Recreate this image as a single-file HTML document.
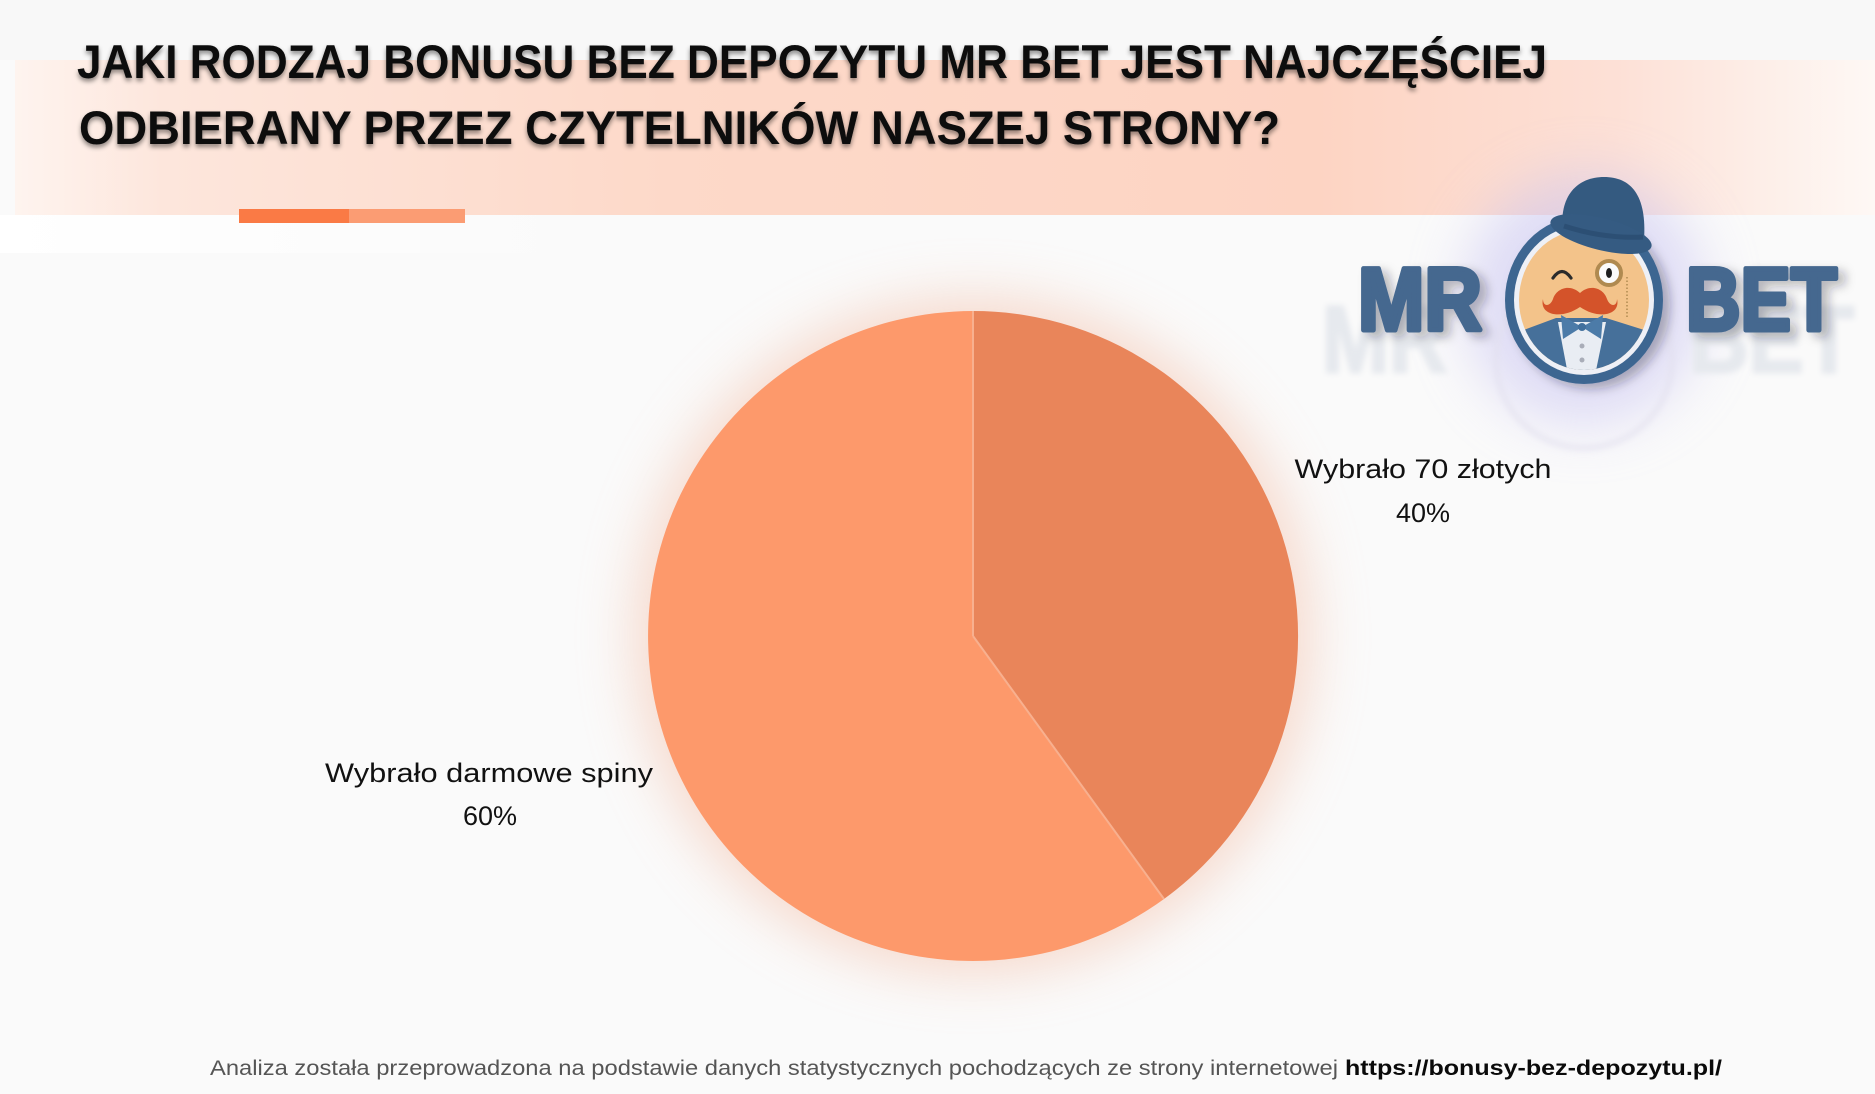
<!DOCTYPE html>
<html>
<head>
<meta charset="utf-8">
<style>
  html,body{margin:0;padding:0;background:#fafafa;}
  svg{display:block;}
  text{font-family:"Liberation Sans",sans-serif;}
</style>
</head>
<body>
<svg width="1875" height="1094" viewBox="0 0 1875 1094" xmlns="http://www.w3.org/2000/svg">
  <defs>
    <linearGradient id="band" x1="0" y1="0" x2="1" y2="0">
      <stop offset="0" stop-color="#fef4ef"/>
      <stop offset="0.08" stop-color="#fde6dc"/>
      <stop offset="0.35" stop-color="#fdd9c9"/>
      <stop offset="0.7" stop-color="#fdd4c3"/>
      <stop offset="0.86" stop-color="#fde0d6"/>
      <stop offset="0.95" stop-color="#fdf0ea"/>
      <stop offset="1" stop-color="#fef8f5"/>
    </linearGradient>
    <linearGradient id="whitestrip" x1="0" y1="0" x2="1" y2="0">
      <stop offset="0" stop-color="#ffffff" stop-opacity="1"/>
      <stop offset="0.4" stop-color="#ffffff" stop-opacity="0.6"/>
      <stop offset="1" stop-color="#ffffff" stop-opacity="0"/>
    </linearGradient>
    <filter id="tshadow" x="-5%" y="-30%" width="110%" height="170%">
      <feDropShadow dx="0" dy="3" stdDeviation="2.5" flood-color="#000" flood-opacity="0.45"/>
    </filter>
    <filter id="blur30" x="-50%" y="-50%" width="200%" height="200%">
      <feGaussianBlur stdDeviation="28"/>
    </filter>
    <filter id="blur4" x="-20%" y="-20%" width="140%" height="140%">
      <feGaussianBlur stdDeviation="3"/>
    </filter>
    <filter id="lshadow" x="-20%" y="-20%" width="150%" height="150%">
      <feDropShadow dx="7" dy="5" stdDeviation="5" flood-color="#223" flood-opacity="0.3"/>
    </filter>
    <clipPath id="inner">
      <ellipse cx="1584" cy="300" rx="65" ry="70"/>
    </clipPath>
  </defs>

  <!-- background -->
  <rect x="0" y="0" width="1875" height="1094" fill="#fafafa"/>
  <rect x="0" y="0" width="1875" height="60" fill="#f8f8f8"/>

  <!-- title band -->
  <rect x="15" y="60" width="1860" height="155" fill="url(#band)"/>
  <rect x="0" y="215" width="600" height="38" fill="url(#whitestrip)"/>

  <!-- accent bar -->
  <rect x="239" y="209" width="110" height="14" fill="#fa7a45"/>
  <rect x="349" y="209" width="116" height="14" fill="#fb9c73"/>

  <!-- title -->
  <g filter="url(#tshadow)" fill="#0a0a0a" font-weight="bold" font-size="47">
    <text x="77" y="78" textLength="1470" lengthAdjust="spacingAndGlyphs">JAKI RODZAJ BONUSU BEZ DEPOZYTU MR BET JEST NAJCZĘŚCIEJ</text>
    <text x="79" y="144" textLength="1201" lengthAdjust="spacingAndGlyphs">ODBIERANY PRZEZ CZYTELNIKÓW NASZEJ STRONY?</text>
  </g>

  <!-- logo glow -->
  <ellipse cx="1584" cy="300" rx="120" ry="125" fill="#c8c3f2" opacity="0.55" filter="url(#blur30)"/>
  <!-- faint reflected letters -->
  <g filter="url(#blur4)" fill="#e6e9ee" font-weight="bold" font-size="95">
    <text x="1322" y="372" textLength="125" lengthAdjust="spacingAndGlyphs" stroke="#e6e9ee" stroke-width="3">MR</text>
    <text x="1689" y="372" textLength="165" lengthAdjust="spacingAndGlyphs" stroke="#e6e9ee" stroke-width="3">BET</text>
  </g>
  <circle cx="1584" cy="360" r="88" fill="none" stroke="#e2e0ee" stroke-width="6" opacity="0.6" filter="url(#blur4)"/>
  <!-- main letters -->
  <g filter="url(#lshadow)" fill="#45678f" stroke="#45678f" stroke-width="5" stroke-linejoin="round" font-weight="bold" font-size="89">
    <text x="1358" y="330" textLength="124" lengthAdjust="spacingAndGlyphs">MR</text>
    <text x="1686" y="330" textLength="151" lengthAdjust="spacingAndGlyphs">BET</text>
  </g>

  <!-- emblem -->
  <g filter="url(#lshadow)">
    <ellipse cx="1584" cy="300" rx="79" ry="84" fill="#3e6691"/>
  </g>
  <ellipse cx="1584" cy="300" rx="70" ry="75" fill="#eef0f6"/>
  <ellipse cx="1584" cy="300" rx="65" ry="70" fill="#f3c38a"/>
  <g clip-path="url(#inner)">
    <polygon points="1510,335 1556,318 1606,318 1660,335 1660,380 1510,380" fill="#46709a"/>
    <polygon points="1558,322 1606,322 1593,385 1570,385" fill="#e9edf3"/>
  </g>
  <!-- bow tie -->
  <polygon points="1582,327 1561,315 1563,339" fill="#4c7ba8"/>
  <polygon points="1582,327 1603,315 1601,339" fill="#4c7ba8"/>
  <circle cx="1582" cy="327" r="4" fill="#42709d"/>
  <circle cx="1582" cy="346" r="2.5" fill="#a9adb8"/>
  <circle cx="1582" cy="360" r="2.5" fill="#a9adb8"/>
  <!-- mustache -->
  <path d="M1580,293 C1569,283 1556,289 1553,299 C1550,307 1543,307 1543,299 C1539,315 1561,320 1580,307 C1599,320 1621,315 1617,299 C1617,307 1610,307 1607,299 C1604,289 1591,283 1580,293 Z" fill="#d4532a"/>
  <!-- wink -->
  <path d="M1553,278 Q1562,265 1571,278" stroke="#2b2b2b" stroke-width="3.2" fill="none" stroke-linecap="round"/>
  <!-- monocle -->
  <circle cx="1609" cy="273" r="12" fill="#fbfbfb" stroke="#b08a50" stroke-width="4"/>
  <ellipse cx="1609" cy="273" rx="3" ry="5" fill="#1d1d1d"/>
  <line x1="1627" y1="277" x2="1627" y2="318" stroke="#b08a50" stroke-width="1.5" stroke-dasharray="1.5 2"/>
  <!-- hat -->
  <path d="M1563,234 C1558,195 1578,177 1604,177 C1631,177 1647,195 1644,240 Z" fill="#345a80"/>
  <ellipse cx="1601" cy="234" rx="52" ry="16" transform="rotate(14 1601 234)" fill="#355b82"/>
  <path d="M1564,226 Q1604,239 1643,237" stroke="#2c4f74" stroke-width="5" fill="none"/>

  <!-- pie glow -->
  <circle cx="973" cy="636" r="338" fill="#f3bda5" opacity="0.55" filter="url(#blur30)"/>

  <!-- pie -->
  <path d="M973,636 L973,311 A325,325 0 0,1 1164,899 Z" fill="#e9855a"/>
  <path d="M973,636 L1164,899 A325,325 0 1,1 973,311 Z" fill="#fd996b"/>
  <line x1="973" y1="636" x2="973" y2="311" stroke="#f8b08f" stroke-width="2"/>
  <line x1="973" y1="636" x2="1164" y2="899" stroke="#f8b08f" stroke-width="2"/>

  <!-- labels -->
  <g fill="#111" font-size="27" text-anchor="middle">
    <text x="1423" y="478" textLength="257" lengthAdjust="spacingAndGlyphs">Wybrało 70 złotych</text>
    <text x="1423" y="522">40%</text>
    <text x="489" y="782" textLength="328" lengthAdjust="spacingAndGlyphs">Wybrało darmowe spiny</text>
    <text x="490" y="825">60%</text>
  </g>

  <!-- footer -->
  <text x="210" y="1075" font-size="21" fill="#555555" textLength="1128" lengthAdjust="spacingAndGlyphs">Analiza została przeprowadzona na podstawie danych statystycznych pochodzących ze strony internetowej</text>
  <text x="1345" y="1075" font-size="21" font-weight="bold" fill="#0a0a0a" textLength="377" lengthAdjust="spacingAndGlyphs">https://bonusy-bez-depozytu.pl/</text>
</svg>
</body>
</html>
